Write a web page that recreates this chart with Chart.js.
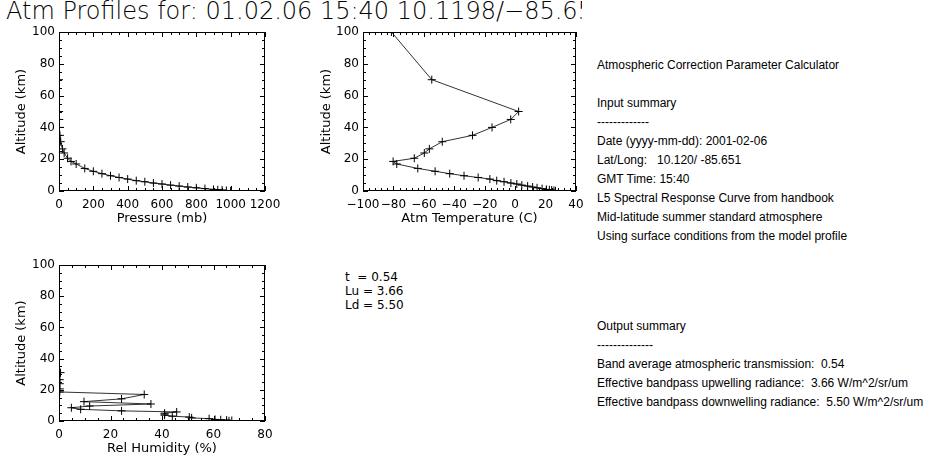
<!DOCTYPE html>
<html><head><meta charset="utf-8">
<script src="https://cdn.jsdelivr.net/npm/chart.js@4.4.1/dist/chart.umd.min.js"></script>
<style>
html,body{margin:0;padding:0;background:#fff;}
#root{position:relative;width:946px;height:457px;overflow:hidden;background:#fff;}
.cv{position:absolute;}
#title{position:absolute;left:6px;top:-3px;width:576px;overflow:hidden;white-space:nowrap;font-family:"DejaVu Sans";font-weight:200;font-size:24px;line-height:28px;color:#000;}
#params{position:absolute;left:345px;top:270px;font-family:"DejaVu Sans";font-size:12px;line-height:14px;white-space:pre;color:#000;}
.sum{position:absolute;left:597px;font-family:"Liberation Sans",Arial,sans-serif;font-size:12px;line-height:19px;white-space:pre;color:#000;}
</style></head>
<body>
<div id="root">
  <div id="title"></div>
  <canvas id="cP" class="cv" width="290" height="230" style="left:0;top:0;width:290px;height:230px"></canvas>
  <canvas id="cT" class="cv" width="290" height="230" style="left:305px;top:0;width:290px;height:230px"></canvas>
  <canvas id="cH" class="cv" width="290" height="224" style="left:0;top:233px;width:290px;height:224px"></canvas>
  <div id="params"></div>
  <div id="sumIn" class="sum" style="top:56px"></div>
  <div id="sumOut" class="sum" style="top:317px"></div>
</div>
<script>
// ---- data ----
const titleText = "Atm Profiles for: 01.02.06 15:40 10.1198/\u221285.651";
const altitudeKm = [0.1,0.35,0.6,0.8,1.0,1.5,2.0,2.5,3.1,3.7,4.4,5.0,5.8,6.5,7.5,8.5,9.6,10.9,12.4,14.2,17.0,18.6,20.6,23.9,26.5,31.0,35,40,45,50,70,100];
const pressureMb = [1000,975,950,925,900,850,800,750,700,650,600,550,500,450,400,350,300,250,200,150,100,70,50,30,20,10,5.7,3.0,1.6,0.85,0.06,0.0003];
const temperatureC = [26.5,25.5,24,22.5,20.5,17.7,14.4,11.5,8.2,4.4,1.1,-2.8,-7.3,-12.1,-16.6,-24.3,-33.6,-43,-52.6,-64,-77.8,-80.2,-66.3,-59.7,-56.4,-47.9,-28,-15.2,-2.9,2.3,-54.8,-81.3];
const humidityPct = [66,67.1,65.1,62.8,60.6,58.3,51.5,50.6,44,41,41,41,45.7,24.3,8.4,4.8,11.9,35.7,9.7,24.3,33.1,0.3,0.3,0.3,0.3,0.6];
const altTicks = [0,20,40,60,80,100];
const pressureTicks = [0,200,400,600,800,1000,1200];
const temperatureTicks = [-100,-80,-60,-40,-20,0,20,40];
const humidityTicks = [0,20,40,60,80];
const paramLines = ["t  = 0.54","Lu = 3.66","Ld = 5.50"];
const inputSummary = [
 "Atmospheric Correction Parameter Calculator","",
 "Input summary","-------------",
 "Date (yyyy-mm-dd): 2001-02-06",
 "Lat/Long:   10.120/ -85.651",
 "GMT Time: 15:40",
 "L5 Spectral Response Curve from handbook",
 "Mid-latitude summer standard atmosphere",
 "Using surface conditions from the model profile"];
const outputSummary = [
 "Output summary","--------------",
 "Band average atmospheric transmission:  0.54",
 "Effective bandpass upwelling radiance:  3.66 W/m^2/sr/um",
 "Effective bandpass downwelling radiance:  5.50 W/m^2/sr/um"];

document.getElementById('title').textContent = titleText;
document.getElementById('params').textContent = paramLines.join("\n");
document.getElementById('sumIn').textContent = inputSummary.join("\n");
document.getElementById('sumOut').textContent = outputSummary.join("\n");

// ---- frame with inward ticks (IDL style) ----
const framePlugin = {
  id:'frame',
  afterDatasetsDraw(chart, args, o){
    const {ctx, chartArea:a, scales:{x,y}} = chart;
    ctx.save();
    ctx.strokeStyle='#000'; ctx.lineWidth=1;
    ctx.strokeRect(Math.round(a.left)+0.5, Math.round(a.top)+0.5, Math.round(a.right-a.left)-1, Math.round(a.bottom-a.top)-1);
    const seg=(x1,y1,x2,y2)=>{ctx.beginPath();ctx.moveTo(x1,y1);ctx.lineTo(x2,y2);ctx.stroke();};
    const xt=(step,len)=>{ for(let v=x.min; v<=x.max+1e-9; v+=step){ const p=Math.round(x.getPixelForValue(v))+0.5; seg(p,a.bottom,p,a.bottom-len); seg(p,a.top,p,a.top+len);} };
    const yt=(step,len)=>{ for(let v=y.min; v<=y.max+1e-9; v+=step){ const p=Math.round(y.getPixelForValue(v))+0.5; seg(a.left,p,a.left+len,p); seg(a.right,p,a.right-len,p);} };
    xt(o.xMinor,3); xt(o.xMajor,5); yt(5,3); yt(20,5);
    ctx.restore();
  }
};

const tickFont = {family:'DejaVu Sans', size:12};
const titleFont = {family:'DejaVu Sans', size:13};
const fmt = v => String(v).replace('-', '\u2212');

function makeChart(id, xs, ys, xTicks, xMinor, xTitle, g){
  const pts = xs.map((v,i)=>({x:v, y:ys[i]}));
  return new Chart(document.getElementById(id), {
    type:'scatter',
    data:{datasets:[{data:pts, showLine:true, borderColor:'#333', borderWidth:1,
      pointStyle:'cross', pointRadius:4, pointHoverRadius:4, pointBorderColor:'#000', pointBorderWidth:1, tension:0}]},
    options:{
      responsive:false, animation:false, devicePixelRatio:1,
      layout:{padding:{top:g.top, right:g.right, left:0, bottom:0}},
      plugins:{legend:{display:false}, tooltip:{enabled:false}, frame:{xMajor:xTicks[1]-xTicks[0], xMinor:xMinor}},
      scales:{
        x:{type:'linear', min:xTicks[0], max:xTicks[xTicks.length-1],
          afterBuildTicks:s=>{s.ticks = xTicks.map(v=>({value:v}));},
          afterFit:s=>{s.height=g.xh;},
          grid:{display:false, drawTicks:false}, border:{display:false},
          ticks:{font:tickFont, color:'#000', padding:7, maxRotation:0, autoSkip:false, callback:fmt},
          title:{display:true, text:xTitle, font:titleFont, color:'#000', padding:{top:0,bottom:g.tb}}},
        y:{type:'linear', min:0, max:100,
          afterBuildTicks:s=>{s.ticks = altTicks.map(v=>({value:v}));},
          afterFit:s=>{s.width=g.yw;},
          grid:{display:false, drawTicks:false}, border:{display:false},
          ticks:{font:tickFont, color:'#000', padding:4, autoSkip:false, callback:fmt},
          title:{display:true, text:'Altitude (km)', font:titleFont, color:'#000', padding:{top:14,bottom:0}}}
      }
    },
    plugins:[framePlugin]
  });
}

makeChart('cP', pressureMb, altitudeKm, pressureTicks, 50, 'Pressure (mb)', {top:32, right:25, xh:39, yw:59, tb:4});
makeChart('cT', temperatureC, altitudeKm, temperatureTicks, 4, 'Atm Temperature (C)', {top:32, right:19, xh:39, yw:58, tb:4});
makeChart('cH', humidityPct, altitudeKm.slice(0, humidityPct.length), humidityTicks, 5, 'Rel Humidity (%)', {top:32, right:25, xh:36, yw:59, tb:1});
</script>
</body></html>
